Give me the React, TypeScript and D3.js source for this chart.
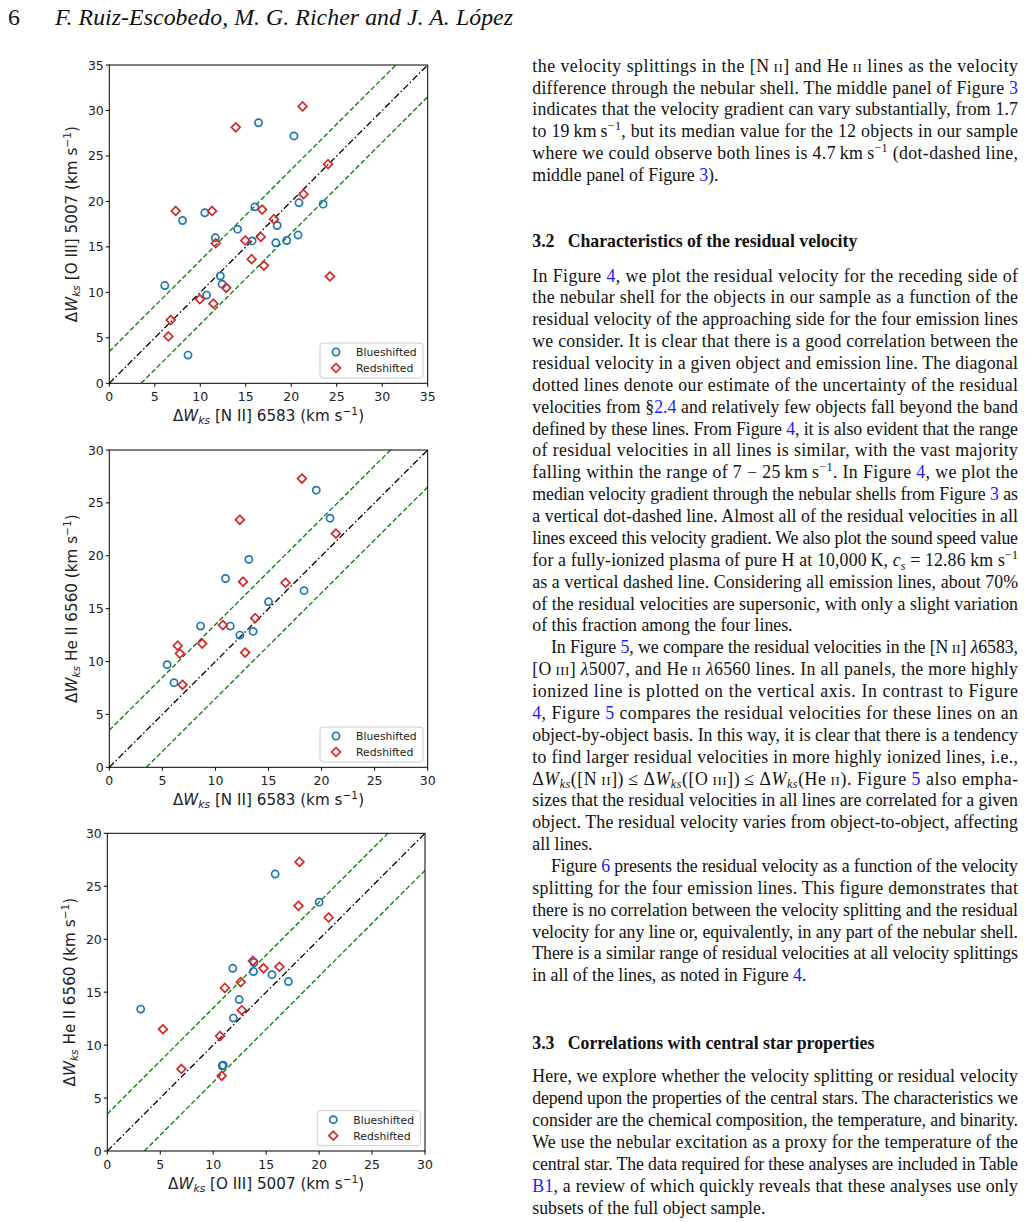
import React from "react";
import * as d3 from "d3";

// ---------------- DATA ----------------
const ticks35 = [0, 5, 10, 15, 20, 25, 30, 35];
const ticks30 = [0, 5, 10, 15, 20, 25, 30];
const bandOffset = 3.5;

// Panel 1: [N II] 6583 (x) vs [O III] 5007 (y)
const p1BlueX = [16.4, 20.3, 20.85, 23.5, 16.0, 10.5, 8.05, 14.1, 18.45, 11.65, 15.7, 18.3, 19.5, 20.75, 12.2, 12.4, 6.1, 10.7, 8.65];
const p1BlueY = [28.65, 27.2, 19.85, 19.7, 19.4, 18.75, 17.9, 16.95, 17.35, 16.0, 15.65, 15.45, 15.7, 16.3, 11.8, 10.9, 10.75, 9.7, 3.1];
const p1RedX = [21.25, 13.9, 24.05, 21.35, 7.3, 11.3, 16.8, 18.1, 16.65, 11.7, 14.95, 15.65, 17.0, 24.25, 12.85, 9.95, 11.45, 6.75, 6.5];
const p1RedY = [30.45, 28.15, 24.1, 20.8, 18.95, 18.95, 19.1, 18.05, 16.1, 15.4, 15.7, 13.65, 12.95, 11.75, 10.5, 9.25, 8.75, 6.95, 5.15];

// Panel 2: [N II] 6583 (x) vs He II 6560 (y)
const p2BlueX = [19.5, 20.8, 13.15, 10.95, 18.35, 15.0, 8.6, 11.4, 12.3, 13.55, 5.45, 6.1];
const p2BlueY = [26.2, 23.55, 19.65, 17.85, 16.7, 15.65, 13.35, 13.35, 12.5, 12.85, 9.7, 8.0];
const p2RedX = [18.15, 12.3, 21.35, 12.6, 16.6, 13.75, 10.7, 8.75, 6.45, 6.65, 12.8, 6.9];
const p2RedY = [27.3, 23.4, 22.1, 17.55, 17.45, 14.1, 13.45, 11.7, 11.5, 10.75, 10.85, 7.8];

// Panel 3: [O III] 5007 (x) vs He II 6560 (y)
const p3BlueX = [15.85, 20.0, 11.85, 13.85, 13.8, 15.55, 17.1, 12.45, 11.9, 3.15, 10.85, 10.95];
const p3BlueY = [26.15, 23.5, 17.25, 17.8, 16.95, 16.65, 16.0, 14.3, 12.55, 13.4, 8.05, 8.1];
const p3RedX = [18.15, 18.05, 20.9, 13.75, 14.75, 16.25, 12.6, 11.1, 12.7, 5.25, 10.65, 7.0, 10.8];
const p3RedY = [27.3, 23.15, 22.05, 17.95, 17.25, 17.4, 15.95, 15.4, 13.3, 11.5, 10.85, 7.75, 7.1];

const legendLabels = ["Blueshifted", "Redshifted"];
const xLabels = ["[N II] 6583", "[N II] 6583", "[O III] 5007"];
const yLabels = ["[O III] 5007", "He II 6560", "He II 6560"];

// ---------------- TEXT ----------------
const pageNumber = "6";
const authors = "F. Ruiz-Escobedo, M. G. Richer and J. A. López";

const para1 = [
  "the velocity splittings in the [N\u2009<sc>II</sc>] and He\u2009<sc>II</sc> lines as the velocity",
  "difference through the nebular shell. The middle panel of Figure <L>3</L>",
  "indicates that the velocity gradient can vary substantially, from 1.7",
  "to 19\u2009km\u2009s<sup>−1</sup>, but its median value for the 12 objects in our sample",
  "where we could observe both lines is 4.7\u2009km\u2009s<sup>−1</sup> (dot-dashed line,",
  "middle panel of Figure <L>3</L>).",
];
const para1Last = [5];

const heading32 = "3.2\u2002 Characteristics of the residual velocity";

const para2 = [
  "In Figure <L>4</L>, we plot the residual velocity for the receding side of",
  "the nebular shell for the objects in our sample as a function of the",
  "residual velocity of the approaching side for the four emission lines",
  "we consider. It is clear that there is a good correlation between the",
  "residual velocity in a given object and emission line. The diagonal",
  "dotted lines denote our estimate of the uncertainty of the residual",
  "velocities from §<L>2.4</L> and relatively few objects fall beyond the band",
  "defined by these lines. From Figure <L>4</L>, it is also evident that the range",
  "of residual velocities in all lines is similar, with the vast majority",
  "falling within the range of 7 − 25\u2009km\u2009s<sup>−1</sup>. In Figure <L>4</L>, we plot the",
  "median velocity gradient through the nebular shells from Figure <L>3</L> as",
  "a vertical dot-dashed line. Almost all of the residual velocities in all",
  "lines exceed this velocity gradient. We also plot the sound speed value",
  "for a fully-ionized plasma of pure H at 10,000\u2009K, <i>c</i><isub>s</isub> = 12.86 km s<sup>−1</sup>",
  "as a vertical dashed line. Considering all emission lines, about 70%",
  "of the residual velocities are supersonic, with only a slight variation",
  "of this fraction among the four lines.",
  "In Figure <L>5</L>, we compare the residual velocities in the [N\u2009<sc>II</sc>] <i>λ</i>6583,",
  "[O\u2009<sc>III</sc>] <i>λ</i>5007, and He\u2009<sc>II</sc> <i>λ</i>6560 lines. In all panels, the more highly",
  "ionized line is plotted on the vertical axis. In contrast to Figure",
  "<L>4</L>, Figure <L>5</L> compares the residual velocities for these lines on an",
  "object-by-object basis. In this way, it is clear that there is a tendency",
  "to find larger residual velocities in more highly ionized lines, i.e.,",
  "Δ<i>W</i><isub>ks</isub>([N\u2009<sc>II</sc>])\u2009≤ Δ<i>W</i><isub>ks</isub>([O\u2009<sc>III</sc>])\u2009≤ Δ<i>W</i><isub>ks</isub>(He\u2009<sc>II</sc>). Figure <L>5</L> also empha-",
  "sizes that the residual velocities in all lines are correlated for a given",
  "object. The residual velocity varies from object-to-object, affecting",
  "all lines.",
  "Figure <L>6</L> presents the residual velocity as a function of the velocity",
  "splitting for the four emission lines. This figure demonstrates that",
  "there is no correlation between the velocity splitting and the residual",
  "velocity for any line or, equivalently, in any part of the nebular shell.",
  "There is a similar range of residual velocities at all velocity splittings",
  "in all of the lines, as noted in Figure <L>4</L>.",
];
const para2Last = [16, 26, 32];
const para2Indent = [17, 27];

const heading33 = "3.3\u2002 Correlations with central star properties";

const para3 = [
  "Here, we explore whether the velocity splitting or residual velocity",
  "depend upon the properties of the central stars. The characteristics we",
  "consider are the chemical composition, the temperature, and binarity.",
  "We use the nebular excitation as a proxy for the temperature of the",
  "central star. The data required for these analyses are included in Table",
  "<L>B1</L>, a review of which quickly reveals that these analyses use only",
  "subsets of the full object sample.",
];
const para3Last = [6];

// ---------------- STYLE ----------------
const BLUE = "#1f77b4";
const RED = "#d62728";
const GREEN = "#008000";
const LINK = "#1a1aff";
const SERIF = "'Liberation Serif', 'Times New Roman', serif";
const SANS = "'DejaVu Sans', sans-serif";
const LH = 21.87;
const FS = 17.8;
const TX = 532.3;
const TR = 1018;
const TI = 551;

type Seg = { t: string; k: string };
function parse(s: string): Seg[] {
  const re = /<(L|sup|sub|sc|i|isub)>(.*?)<\/\1>/g;
  const out: Seg[] = [];
  let last = 0;
  let m: RegExpExecArray | null;
  while ((m = re.exec(s))) {
    if (m.index > last) out.push({ t: s.slice(last, m.index), k: "n" });
    out.push({ t: m[2], k: m[1] });
    last = re.lastIndex;
  }
  if (last < s.length) out.push({ t: s.slice(last), k: "n" });
  return out;
}

function RichLine({ s, x, y, w }: { s: string; x: number; y: number; w?: number }) {
  const segs = parse(s);
  let shift = 0;
  const spans = segs.map((sg, i) => {
    let target = 0;
    let fs = FS;
    let italic = false;
    let fill: string | undefined;
    if (sg.k === "sup") { target = -7; fs = FS * 0.68; }
    if (sg.k === "sub") { target = 3.8; fs = FS * 0.68; }
    if (sg.k === "isub") { target = 3.8; fs = FS * 0.68; italic = true; }
    if (sg.k === "sc") { fs = FS * 0.74; }
    if (sg.k === "i") { italic = true; }
    if (sg.k === "L") { fill = LINK; }
    const dy = target - shift;
    shift = target;
    return (
      <tspan key={i} dy={dy !== 0 ? dy : undefined} fontSize={fs} fontStyle={italic ? "italic" : undefined} fill={fill}>
        {sg.t}
      </tspan>
    );
  });
  return (
    <text x={x} y={y} textLength={w} lengthAdjust={w ? "spacing" : undefined} fontFamily={SERIF} fontSize={FS} fill="#111" style={{ whiteSpace: "pre" }}>
      {spans}
    </text>
  );
}

function Paragraph({ lines, top, last, indent }: { lines: string[]; top: number; last: number[]; indent?: number[] }) {
  return (
    <g>
      {lines.map((s, i) => {
        const x = indent && indent.includes(i) ? TI : TX;
        const w = last.includes(i) ? undefined : TR - x;
        return <RichLine key={i} s={s} x={x} y={top + i * LH} w={w} />;
      })}
    </g>
  );
}

type PanelSpec = {
  left: number; top: number; w: number; h: number; max: number; ticks: number[];
  bx: number[]; by: number[]; rx: number[]; ry: number[];
  xl: string; yl: string; ylx: number;
};

function MathLabel({ text, x, y, rotate }: { text: string; x: number; y: number; rotate?: number }) {
  const fs = 15.2;
  return (
    <text transform={`translate(${x},${y})${rotate ? ` rotate(${rotate})` : ""}`} textAnchor="middle" fontFamily={SANS} fontSize={fs} fill="#222" style={{ whiteSpace: "pre" }}>
      <tspan>Δ</tspan>
      <tspan fontStyle="italic">W</tspan>
      <tspan fontStyle="italic" fontSize={fs * 0.7} dy={3.3}>ks</tspan>
      <tspan dy={-3.3}>{` ${text} (km s`}</tspan>
      <tspan fontSize={fs * 0.7} dy={-6}>−1</tspan>
      <tspan dy={6}>)</tspan>
    </text>
  );
}

const diamond = (h: number) => `M0,${-h}L${h},0L0,${h}L${-h},0Z`;

function Panel({ p, id }: { p: PanelSpec; id: string }) {
  const x = d3.scaleLinear().domain([0, p.max]).range([p.left, p.left + p.w]);
  const y = d3.scaleLinear().domain([0, p.max]).range([p.top + p.h, p.top]);
  const line = d3.line<[number, number]>().x((d) => x(d[0])).y((d) => y(d[1]));
  const o = bandOffset;
  const bottom = p.top + p.h;
  const right = p.left + p.w;
  const lgW = 103, lgH = 35;
  const lgX = right - 4.7 - lgW;
  const lgY = bottom - 5.3 - lgH;
  return (
    <g>
      <defs>
        <clipPath id={id}>
          <rect x={p.left} y={p.top} width={p.w} height={p.h} />
        </clipPath>
      </defs>
      <g clipPath={`url(#${id})`}>
        <path d={line([[0, 0], [p.max, p.max]]) || ""} stroke="#000" strokeWidth={1.3} strokeDasharray="6.5,2.5,1.5,2.5" fill="none" />
        <path d={line([[0, o], [p.max - o, p.max]]) || ""} stroke={GREEN} strokeWidth={1.3} strokeDasharray="5,2.4" fill="none" />
        <path d={line([[o, 0], [p.max, p.max - o]]) || ""} stroke={GREEN} strokeWidth={1.3} strokeDasharray="5,2.4" fill="none" />
      </g>
      {p.bx.map((v, i) => (
        <circle key={"b" + i} cx={x(v)} cy={y(p.by[i])} r={3.6} fill="none" stroke={BLUE} strokeWidth={1.7} />
      ))}
      {p.rx.map((v, i) => (
        <path key={"r" + i} transform={`translate(${x(v)},${y(p.ry[i])})`} d={diamond(4.4)} fill="none" stroke={RED} strokeWidth={1.7} />
      ))}
      <rect x={p.left} y={p.top} width={p.w} height={p.h} fill="none" stroke="#000" strokeWidth={1} />
      {p.ticks.map((t) => (
        <g key={"x" + t}>
          <line x1={x(t)} x2={x(t)} y1={bottom} y2={bottom + 3.5} stroke="#000" strokeWidth={1} />
          <text x={x(t)} y={bottom + 17.8} textAnchor="middle" fontFamily={SANS} fontSize={12.5} fill="#222">{t}</text>
        </g>
      ))}
      {p.ticks.map((t) => (
        <g key={"y" + t}>
          <line x1={p.left - 3.5} x2={p.left} y1={y(t)} y2={y(t)} stroke="#000" strokeWidth={1} />
          <text x={p.left - 5.5} y={y(t) + 4.5} textAnchor="end" fontFamily={SANS} fontSize={12.5} fill="#222">{t}</text>
        </g>
      ))}
      <MathLabel text={p.xl} x={(p.left + right) / 2} y={bottom + 37.5} />
      <MathLabel text={p.yl} x={p.ylx} y={(p.top + bottom) / 2} rotate={-90} />
      <g>
        <rect x={lgX} y={lgY} width={lgW} height={lgH} rx={3} fill="#fff" fillOpacity={0.8} stroke="#cccccc" strokeWidth={1} />
        <circle cx={lgX + 16} cy={lgY + 9} r={3.6} fill="none" stroke={BLUE} strokeWidth={1.7} />
        <path transform={`translate(${lgX + 16},${lgY + 25})`} d={diamond(4.4)} fill="none" stroke={RED} strokeWidth={1.7} />
        <text x={lgX + 36} y={lgY + 13} fontFamily={SANS} fontSize={10.8} fill="#222">{legendLabels[0]}</text>
        <text x={lgX + 36} y={lgY + 29} fontFamily={SANS} fontSize={10.8} fill="#222">{legendLabels[1]}</text>
      </g>
    </g>
  );
}

const panels: PanelSpec[] = [
  { left: 109.3, top: 65, w: 318.4, h: 318.3, max: 35, ticks: ticks35, bx: p1BlueX, by: p1BlueY, rx: p1RedX, ry: p1RedY, xl: xLabels[0], yl: yLabels[0], ylx: 76.5 },
  { left: 109.3, top: 450, w: 318.4, h: 317.3, max: 30, ticks: ticks30, bx: p2BlueX, by: p2BlueY, rx: p2RedX, ry: p2RedY, xl: xLabels[1], yl: yLabels[1], ylx: 76.5 },
  { left: 107.3, top: 833.3, w: 317.7, h: 317.7, max: 30, ticks: ticks30, bx: p3BlueX, by: p3BlueY, rx: p3RedX, ry: p3RedY, xl: xLabels[2], yl: yLabels[2], ylx: 74.5 },
];

export default function App() {
  return (
    <svg width={1026} height={1222} viewBox="0 0 1026 1222" style={{ position: "absolute", left: 0, top: 0, background: "#fff" }}>
      <rect x={0} y={0} width={1026} height={1222} fill="#fff" />
      <text x={8} y={25} fontFamily={SERIF} fontSize={23.8} fill="#111">{pageNumber}</text>
      <text x={55} y={25} fontFamily={SERIF} fontSize={23.8} fontStyle="italic" fill="#111" textLength={458} lengthAdjust="spacing">{authors}</text>
      {panels.map((p, i) => (
        <Panel key={i} p={p} id={`clip${i}`} />
      ))}
      <Paragraph lines={para1} top={71.7} last={para1Last} />
      <text x={TX} y={247} fontFamily={SERIF} fontSize={FS} fontWeight="bold" fill="#111" textLength={325} lengthAdjust="spacing" style={{ whiteSpace: "pre" }}>{heading32}</text>
      <Paragraph lines={para2} top={281.5} last={para2Last} indent={para2Indent} />
      <text x={TX} y={1049} fontFamily={SERIF} fontSize={FS} fontWeight="bold" fill="#111" textLength={342} lengthAdjust="spacing" style={{ whiteSpace: "pre" }}>{heading33}</text>
      <Paragraph lines={para3} top={1082.4} last={para3Last} />
    </svg>
  );
}
